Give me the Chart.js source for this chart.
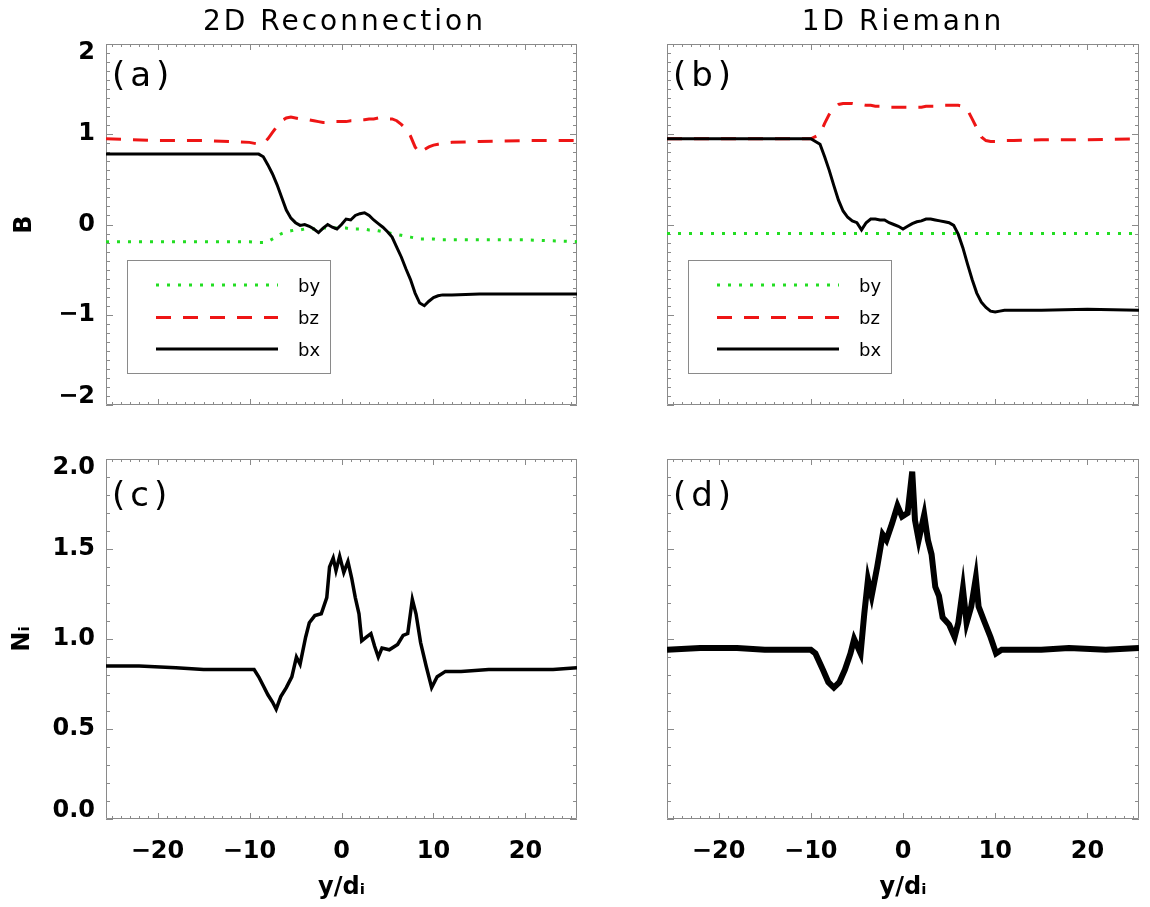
<!DOCTYPE html>
<html>
<head>
<meta charset="utf-8">
<script src="https://cdn.jsdelivr.net/npm/chart.js"></script>
<style>
html, body { margin: 0; padding: 0; background: #ffffff; }
#wrap { position: relative; width: 1150px; height: 907px; overflow: hidden; background: #ffffff; }
canvas { position: absolute; }
</style>
</head>
<body>
<div id="wrap">
  <canvas id="ca" width="600" height="440" style="left:0px;top:0px;width:600px;height:440px"></canvas>
  <canvas id="cb" width="550" height="440" style="left:600px;top:0px;width:550px;height:440px"></canvas>
  <canvas id="cc" width="600" height="497" style="left:0px;top:410px;width:600px;height:497px"></canvas>
  <canvas id="cd" width="550" height="497" style="left:600px;top:410px;width:550px;height:497px"></canvas>
</div>
<script>
// ---------------- data ----------------
const xMin = -25.6, xMax = 25.6;
const xTickValues = [-20, -10, 0, 10, 20];
const xTickLabels = ['\u221220', '\u221210', '0', '10', '20'];
const bTickValues = [-2, -1, 0, 1, 2];
const bTickLabels = ['\u22122', '\u22121', '0', '1', '2'];
const nTickValues = [0, 0.5, 1, 1.5, 2];
const nTickLabels = ['0.0', '0.5', '1.0', '1.5', '2.0'];

const panelTitles = ['2D Reconnection', '1D Riemann'];
const panelLetters = ['(a)', '(b)', '(c)', '(d)'];
const seriesNames = ['bx', 'by', 'bz'];

// x positions (y/d_i) for the magnetic-field panels
const xTop = [-25.6, -20, -15, -12, -10, -9, -8.5, -8, -7.5, -7, -6.5, -6, -5.5, -5, -4.5, -4, -3.5, -3, -2.5, -2, -1.5, -1, -0.5,
  0, 0.5, 1, 1.5, 2, 2.5, 3, 3.5, 4, 4.5, 5, 5.5, 6, 6.5, 7, 7.5, 8, 8.5, 9, 9.5, 10, 10.5, 11, 12, 15, 20, 25.6];

// (a) 2D reconnection
const aBx = [0.78, 0.78, 0.78, 0.78, 0.78, 0.78, 0.75, 0.66, 0.56, 0.44, 0.30, 0.16, 0.07, 0.02, -0.01, 0.00, -0.02, -0.05, -0.09, -0.04, 0.00, -0.03, -0.05,
  0.00, 0.06, 0.05, 0.10, 0.12, 0.13, 0.10, 0.05, 0.01, -0.03, -0.08, -0.14, -0.25, -0.36, -0.49, -0.61, -0.76, -0.87, -0.90, -0.85, -0.81, -0.79, -0.78, -0.78, -0.77, -0.77, -0.77];
const aBz = [0.95, 0.93, 0.93, 0.92, 0.91, 0.89, 0.90, 0.95, 1.02, 1.09, 1.15, 1.18, 1.19, 1.18, 1.17, 1.16, 1.16, 1.15, 1.14, 1.13, 1.13, 1.14, 1.14,
  1.14, 1.14, 1.15, 1.15, 1.16, 1.16, 1.17, 1.17, 1.18, 1.18, 1.17, 1.17, 1.15, 1.11, 1.06, 0.98, 0.86, 0.79, 0.83, 0.86, 0.88, 0.89, 0.90, 0.91, 0.92, 0.93, 0.93];
const aBy = [-0.19, -0.19, -0.19, -0.19, -0.19, -0.20, -0.20, -0.19, -0.16, -0.13, -0.10, -0.08, -0.07, -0.06, -0.06, -0.05, -0.05, -0.05, -0.04, -0.04, -0.04, -0.04, -0.04,
  -0.04, -0.04, -0.05, -0.05, -0.05, -0.05, -0.06, -0.06, -0.07, -0.08, -0.09, -0.10, -0.11, -0.12, -0.13, -0.14, -0.15, -0.16, -0.16, -0.16, -0.16, -0.17, -0.17, -0.17, -0.17, -0.17, -0.19];

// (b) 1D Riemann
const bBx = [0.95, 0.95, 0.95, 0.95, 0.95, 0.89, 0.75, 0.60, 0.43, 0.27, 0.15, 0.08, 0.04, 0.02, -0.06, 0.02, 0.06, 0.06, 0.05, 0.05, 0.02, 0.00, -0.02,
  -0.05, -0.02, 0.01, 0.03, 0.04, 0.06, 0.06, 0.05, 0.04, 0.03, 0.02, -0.01, -0.11, -0.26, -0.44, -0.61, -0.76, -0.86, -0.92, -0.96, -0.97, -0.96, -0.95, -0.95, -0.95, -0.94, -0.95];
const bBz = [0.95, 0.95, 0.95, 0.95, 0.95, 1.00, 1.12, 1.22, 1.29, 1.33, 1.34, 1.34, 1.34, 1.33, 1.33, 1.32, 1.32, 1.31, 1.31, 1.31, 1.30, 1.30, 1.30,
  1.30, 1.30, 1.30, 1.30, 1.30, 1.31, 1.31, 1.31, 1.32, 1.32, 1.32, 1.32, 1.32, 1.31, 1.27, 1.17, 1.07, 0.97, 0.93, 0.92, 0.92, 0.93, 0.93, 0.93, 0.94, 0.94, 0.95];
const xByB = [-25.6, 25.6];
const bBy = [-0.10, -0.10];

// (c) 2D reconnection density
const xC = [-25.6, -22, -18, -15, -12, -10, -9.5, -9, -8.5, -8, -7.5, -7.1, -6.6, -6, -5.4, -4.9, -4.5, -3.9, -3.5, -2.9,
  -2.2, -1.6, -1.3, -0.9, -0.6, -0.2, 0.25, 0.7, 1.1, 1.5, 1.9, 2.2, 2.7, 3.2, 3.6, 4.0, 4.4, 5.2, 6.1, 6.7,
  7.2, 7.7, 8.1, 8.6, 9.2, 9.8, 10.4, 11.3, 13, 16, 20, 23, 25.6];
const cN = [0.85, 0.85, 0.84, 0.83, 0.83, 0.83, 0.83, 0.79, 0.74, 0.69, 0.65, 0.61, 0.68, 0.73, 0.79, 0.90, 0.86, 1.01, 1.09, 1.13,
  1.14, 1.23, 1.40, 1.45, 1.38, 1.46, 1.37, 1.43, 1.34, 1.23, 1.14, 0.99, 1.01, 1.03, 0.96, 0.90, 0.95, 0.94, 0.97, 1.02,
  1.03, 1.22, 1.14, 0.98, 0.85, 0.73, 0.79, 0.82, 0.82, 0.83, 0.83, 0.83, 0.84];

// (d) 1D Riemann density
const xD = [-25.6, -22, -18, -15, -12, -10, -9.5, -8.7, -8.1, -7.5, -6.9, -6.3, -5.7, -5.3, -4.6, -4.2, -3.8, -3.4, -2.8, -2.2,
  -1.8, -1.2, -0.6, -0.1, 0.5, 1.0, 1.3, 1.7, 2.3, 2.7, 3.1, 3.5, 3.9, 4.3, 5.0, 5.6, 6.0, 6.5, 6.9, 7.4,
  7.9, 8.2, 8.8, 9.5, 10.1, 10.7, 12, 15, 18, 22, 25.6];
const dN = [0.94, 0.95, 0.95, 0.94, 0.94, 0.94, 0.92, 0.83, 0.76, 0.73, 0.76, 0.83, 0.92, 1.00, 0.92, 1.14, 1.33, 1.24, 1.40, 1.58,
  1.55, 1.64, 1.74, 1.68, 1.70, 1.93, 1.66, 1.55, 1.69, 1.55, 1.47, 1.29, 1.24, 1.12, 1.08, 1.01, 1.09, 1.28, 1.09, 1.18,
  1.34, 1.18, 1.10, 1.01, 0.92, 0.94, 0.94, 0.94, 0.95, 0.94, 0.95];

// ---------------- helpers ----------------
const FONT = 'DejaVu Sans';
const pts = (xs, ys) => xs.map((x, i) => ({ x: x, y: ys[i] }));

const decorPlugin = {
  id: 'decor',
  beforeDatasetsDraw(chart, args, o) {
    const { ctx, chartArea: a } = chart;
    const xs = chart.scales.x, ys = chart.scales.y;
    ctx.save();
    ctx.strokeStyle = o.frameColor;
    ctx.lineWidth = 1;
    ctx.beginPath();
    ctx.rect(a.left + 0.5, a.top + 0.5, a.right - a.left - 1, a.bottom - a.top - 1);
    const isMajor = (v, m) => Math.abs(v / m - Math.round(v / m)) < 1e-6;
    for (let k = Math.ceil(xs.min / o.xMinor - 1e-9); k <= Math.floor(xs.max / o.xMinor + 1e-9); k++) {
      const v = k * o.xMinor;
      const len = isMajor(v, o.xMajor) ? o.xMajorLen : o.xMinorLen;
      const px = Math.round(xs.getPixelForValue(v)) + 0.5;
      ctx.moveTo(px, a.bottom); ctx.lineTo(px, a.bottom - len);
      ctx.moveTo(px, a.top); ctx.lineTo(px, a.top + len);
    }
    for (let k = Math.ceil(ys.min / o.yMinor - 1e-9); k <= Math.floor(ys.max / o.yMinor + 1e-9); k++) {
      const v = k * o.yMinor;
      const len = isMajor(v, o.yMajor) ? o.yMajorLen : o.yMinorLen;
      const py = Math.round(ys.getPixelForValue(v)) + 0.5;
      ctx.moveTo(a.left, py); ctx.lineTo(a.left + len, py);
      ctx.moveTo(a.right, py); ctx.lineTo(a.right - len, py);
    }
    ctx.stroke();
    ctx.restore();
  },
  afterDraw(chart, args, o) {
    const { ctx, chartArea: a } = chart;
    ctx.save();
    ctx.fillStyle = '#000';
    if (o.title) {
      ctx.font = '28px "' + FONT + '"';
      try { ctx.letterSpacing = '3px'; } catch (e) {}
      ctx.textAlign = 'center';
      ctx.textBaseline = 'alphabetic';
      ctx.fillText(o.title, (a.left + a.right) / 2 + o.titleDx, o.titleY);
    }
    if (o.letter) {
      ctx.font = '34px "' + FONT + '"';
      try { ctx.letterSpacing = '5px'; } catch (e) {}
      ctx.textAlign = 'left';
      ctx.textBaseline = 'alphabetic';
      ctx.fillText(o.letter, a.left + 6, a.top + o.letterDy);
    }
    try { ctx.letterSpacing = '0px'; } catch (e) {}
    if (o.legend) {
      const L = a.left, T = a.top;
      ctx.strokeStyle = '#8a8a8a';
      ctx.lineWidth = 1;
      ctx.strokeRect(L + 21.5, T + 216.5, 203, 113);
      const rows = [241, 273.5, 305];
      o.legendOrder.forEach((di, r) => {
        const ds = chart.data.datasets[di];
        ctx.save();
        ctx.strokeStyle = ds.borderColor;
        ctx.lineWidth = ds.borderWidth;
        ctx.setLineDash(ds.borderDash || []);
        ctx.lineCap = 'butt';
        ctx.beginPath();
        ctx.moveTo(L + 50, T + rows[r]);
        ctx.lineTo(L + 172, T + rows[r]);
        ctx.stroke();
        ctx.restore();
        ctx.fillStyle = '#000';
        ctx.font = '18px "' + FONT + '"';
        ctx.textAlign = 'left';
        ctx.textBaseline = 'middle';
        ctx.fillText(ds.label, L + 192, T + rows[r] + 2);
      });
    }
    ctx.restore();
  }
};

function bxSet(data) { return { label: seriesNames[0], data: data, borderColor: '#000000', borderWidth: 3, borderDash: [], pointRadius: 0, tension: 0 }; }
function bySet(data) { return { label: seriesNames[1], data: data, borderColor: '#22dd22', borderWidth: 3, borderDash: [3, 8], pointRadius: 0, tension: 0 }; }
function bzSet(data) { return { label: seriesNames[2], data: data, borderColor: '#ee1515', borderWidth: 3, borderDash: [15, 12], pointRadius: 0, tension: 0 }; }
function nSet(data, w) { return { label: 'N', data: data, borderColor: '#000000', borderWidth: w, pointRadius: 0, tension: 0 }; }

function makePanel(id, cfg) {
  const yVals = cfg.yTicks, yLabs = cfg.yLabels;
  return new Chart(document.getElementById(id), {
    type: 'line',
    data: { datasets: cfg.datasets },
    options: {
      responsive: false,
      animation: false,
      devicePixelRatio: 1,
      layout: { padding: cfg.padding },
      plugins: { legend: { display: false }, tooltip: { enabled: false }, decor: cfg.decor },
      scales: {
        x: {
          type: 'linear', min: xMin, max: xMax,
          grid: { display: false, drawTicks: false },
          border: { display: false },
          afterBuildTicks: s => { s.ticks = xTickValues.map(v => ({ value: v })); },
          afterFit: s => { s.height = cfg.xHeight; },
          ticks: {
            display: cfg.xLabels, autoSkip: false, maxRotation: 0, padding: 18, color: '#000',
            font: { family: FONT, size: 24, weight: 'bold' },
            callback: v => xTickLabels[xTickValues.indexOf(v)]
          },
          title: cfg.xLabels ? { display: true, text: 'y/d\u1D62', color: '#000', font: { family: FONT, size: 24, weight: 'bold' }, padding: { top: 0, bottom: 5 } } : { display: false }
        },
        y: {
          type: 'linear', min: yVals[0], max: yVals[yVals.length - 1],
          grid: { display: false, drawTicks: false },
          border: { display: false },
          afterBuildTicks: s => { s.ticks = yVals.map(v => ({ value: v })); },
          afterFit: s => { s.width = cfg.yWidth; },
          ticks: {
            display: cfg.yLabelsShow, autoSkip: false, padding: 11, color: '#000',
            font: { family: FONT, size: 24, weight: 'bold', lineHeight: '17px' },
            callback: (v) => {
              const i = yVals.indexOf(v);
              const t = yLabs[i];
              if (i === 0) return [t, ''];
              if (i === yVals.length - 1) return ['', t];
              return t;
            }
          },
          title: cfg.yTitle ? { display: true, text: cfg.yTitle, color: '#000', font: { family: FONT, size: 24, weight: 'bold' }, padding: { top: cfg.yTitlePad, bottom: 0 } } : { display: false }
        }
      }
    },
    plugins: [decorPlugin]
  });
}

const decorBase = { frameColor: '#8a8a8a', xMinor: 1, xMajor: 10, xMajorLen: 6, xMinorLen: 3, yMajorLen: 7, yMinorLen: 4 };

makePanel('ca', {
  datasets: [bxSet(pts(xTop, aBx)), bySet(pts(xTop, aBy)), bzSet(pts(xTop, aBz))],
  padding: { left: 0, top: 44, right: 23, bottom: 0 },
  xHeight: 35, yWidth: 106, xLabels: false, yLabelsShow: true,
  yTicks: bTickValues, yLabels: bTickLabels, yTitle: 'B', yTitlePad: 10,
  decor: Object.assign({}, decorBase, { yMinor: 0.1, yMajor: 1, title: panelTitles[0], titleDx: 3, titleY: 30, letter: panelLetters[0], letterDy: 42, legend: true, legendOrder: [1, 2, 0] })
});
makePanel('cb', {
  datasets: [bxSet(pts(xTop, bBx)), bySet(pts(xByB, bBy)), bzSet(pts(xTop, bBz))],
  padding: { left: 0, top: 44, right: 11, bottom: 0 },
  xHeight: 35, yWidth: 67, xLabels: false, yLabelsShow: false,
  yTicks: bTickValues, yLabels: bTickLabels, yTitle: null,
  decor: Object.assign({}, decorBase, { yMinor: 0.1, yMajor: 1, title: panelTitles[1], titleDx: 0, titleY: 30, letter: panelLetters[1], letterDy: 42, legend: true, legendOrder: [1, 2, 0] })
});
makePanel('cc', {
  datasets: [nSet(pts(xC, cN), 3.5)],
  padding: { left: 0, top: 49, right: 23, bottom: 0 },
  xHeight: 88, yWidth: 106, xLabels: true, yLabelsShow: true,
  yTicks: nTickValues, yLabels: nTickLabels, yTitle: 'N\u1D62', yTitlePad: 8,
  decor: Object.assign({}, decorBase, { yMinor: 0.1, yMajor: 0.5, title: null, letter: panelLetters[2], letterDy: 47, legend: false })
});
makePanel('cd', {
  datasets: [nSet(pts(xD, dN), 6)],
  padding: { left: 0, top: 49, right: 11, bottom: 0 },
  xHeight: 88, yWidth: 67, xLabels: true, yLabelsShow: false,
  yTicks: nTickValues, yLabels: nTickLabels, yTitle: null,
  decor: Object.assign({}, decorBase, { yMinor: 0.1, yMajor: 0.5, title: null, letter: panelLetters[3], letterDy: 47, legend: false })
});
</script>
</body>
</html>
